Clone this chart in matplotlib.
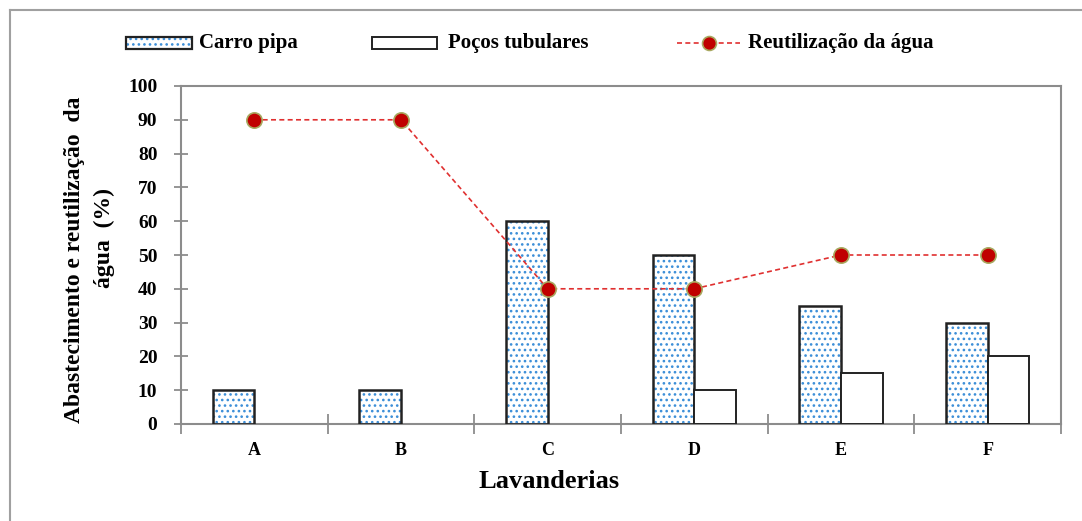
import matplotlib
matplotlib.use('Agg')
import matplotlib.pyplot as plt
from matplotlib.lines import Line2D
from matplotlib.patches import Rectangle
import numpy as np

plt.rcParams['font.family'] = ['Liberation Serif', 'DejaVu Serif']
plt.rcParams['font.weight'] = 'bold'
plt.rcParams['hatch.linewidth'] = 1.1

CATEGORIES = ['A', 'B', 'C', 'D', 'E', 'F']
CARRO_PIPA = [10, 10, 60, 50, 35, 30]
POCOS = [0, 0, 0, 10, 15, 20]
REUTILIZACAO = [90, 90, 40, 40, 50, 50]
Y_TICKS = [0, 10, 20, 30, 40, 50, 60, 70, 80, 90, 100]
LEGEND_LABELS = ['Carro pipa', 'Poços tubulares', 'Reutilização da água']

GRAY = '#8c8c8c'
DOT_BLUE = '#3b8ed8'
RED = '#c00000'
LINE_RED = '#e03030'
W, H = 1082, 521

fig = plt.figure(figsize=(W / 100, H / 100), dpi=100)
ax = fig.add_axes([181 / W, 1 - 424 / H, 880 / W, 338 / H])


def fx(px):
    return px / W


def fy(py):
    return 1 - py / H


x = np.arange(len(CATEGORIES))
w = 0.285

# dotted fill first, then black outline on top
ax.bar(x - w / 2, CARRO_PIPA, w, color='white', edgecolor=DOT_BLUE,
       hatch='...', linewidth=0, zorder=2)
ax.bar(x - w / 2, CARRO_PIPA, w, fill=False, edgecolor='#222222',
       linewidth=1.8, zorder=3)
pocos_lw = [1.4 if v > 0 else 0 for v in POCOS]
ax.bar(x + w / 2, POCOS, w, color='white', edgecolor='#222222',
       linewidth=pocos_lw, zorder=3)
ax.plot(x, REUTILIZACAO, color=LINE_RED, linestyle=(0, (3, 2)), linewidth=1.2,
        marker='o', markersize=11, markerfacecolor=RED,
        markeredgecolor='#a8a860', markeredgewidth=1.2, zorder=4)

ax.set_xlim(-0.5, len(CATEGORIES) - 0.5)
ax.set_ylim(0, 100)
ax.set_yticks(Y_TICKS)
ax.set_xticks(x)
ax.set_xticklabels(CATEGORIES)
ax.set_xticks(np.arange(-0.5, len(CATEGORIES)), minor=True)
ax.tick_params(axis='x', which='major', length=0, pad=13, labelsize=13)
ax.tick_params(axis='x', which='minor', direction='inout', length=14,
               color=GRAY, width=1.3)
ax.tick_params(axis='y', direction='inout', length=10, color=GRAY, width=1.3,
               labelsize=14, pad=12)
for s in ax.spines.values():
    s.set_color(GRAY)
    s.set_linewidth(1.5)

# axis titles
fig.text(fx(549), fy(481), 'Lavanderias', fontsize=19, fontweight='bold',
         ha='center', va='center')
fig.text(fx(75), fy(260), 'Abastecimento e reutilização  da', fontsize=17,
         fontweight='bold', rotation=90, ha='center', va='center')
fig.text(fx(104), fy(238), 'água  (%)', fontsize=17, fontweight='bold',
         rotation=90, ha='center', va='center')

# legend, placed by hand
ly = 43
fig.add_artist(Rectangle((fx(126), fy(ly + 6)), fx(192) - fx(126), 12 / H,
                         transform=fig.transFigure, facecolor='white',
                         edgecolor=DOT_BLUE, hatch='...', linewidth=0))
fig.add_artist(Rectangle((fx(126), fy(ly + 6)), fx(192) - fx(126), 12 / H,
                         transform=fig.transFigure, fill=False,
                         edgecolor='#222222', linewidth=1.6))
fig.add_artist(Rectangle((fx(372), fy(ly + 6)), fx(437) - fx(372), 12 / H,
                         transform=fig.transFigure, facecolor='white',
                         edgecolor='#222222', linewidth=1.4))
fig.add_artist(Line2D([fx(677), fx(740)], [fy(ly), fy(ly)], color=LINE_RED,
                      linestyle=(0, (3, 2)), linewidth=1.2))
fig.add_artist(Line2D([fx(709)], [fy(ly)], marker='o', markersize=10,
                      markerfacecolor=RED, markeredgecolor='#a8a860',
                      markeredgewidth=1.2))
for tx, lab in zip([199, 448, 748], LEGEND_LABELS):
    fig.text(fx(tx), fy(ly), lab, fontsize=15, fontweight='bold',
             ha='left', va='center')

# outer frame lines (top and left)
fig.add_artist(Line2D([fx(10), 1.0], [fy(10), fy(10)],
                      color='#a0a0a0', linewidth=1.5))
fig.add_artist(Line2D([fx(10), fx(10)], [0, fy(10)],
                      color='#a0a0a0', linewidth=1.5))

fig.savefig('out.png', dpi=100, facecolor='white')
